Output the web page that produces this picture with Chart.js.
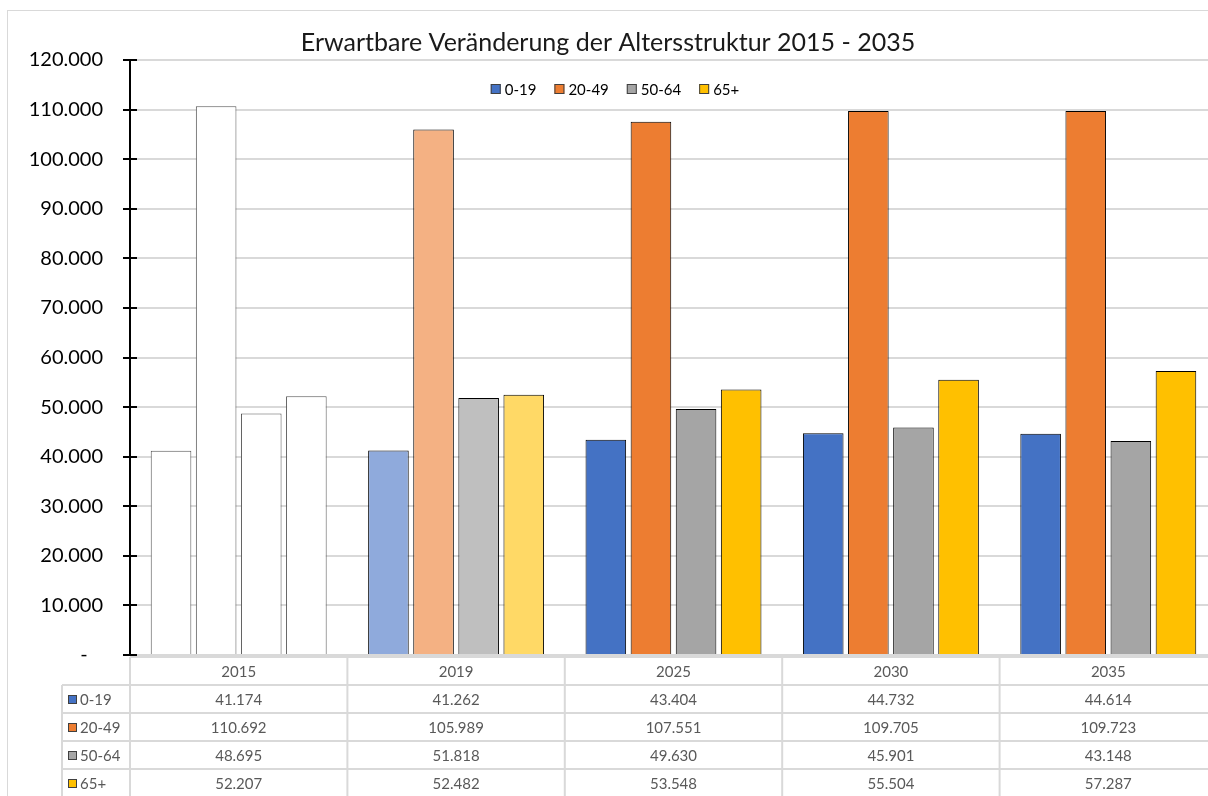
<!DOCTYPE html>
<html>
<head>
<meta charset="utf-8">
<script src="https://cdn.jsdelivr.net/npm/chart.js@4.4.1/dist/chart.umd.min.js"></script>
<style>
    html, body { margin: 0; padding: 0; overflow: hidden; background: #fff; }
    canvas { display: block; }
</style>
</head>
<body>
<canvas id="ageChart" width="1226" height="810"></canvas>
<script>
const years = ['2015', '2019', '2025', '2030', '2035'];
const ageGroups = ['0-19', '20-49', '50-64', '65+'];
const age0to19 = [41174, 41262, 43404, 44732, 44614];
const age20to49 = [110692, 105989, 107551, 109705, 109723];
const age50to64 = [48695, 51818, 49630, 45901, 43148];
const age65plus = [52207, 52482, 53548, 55504, 57287];
const yTickValues = [0, 10000, 20000, 30000, 40000, 50000, 60000, 70000, 80000, 90000, 100000, 110000, 120000];

const titleText = 'Erwartbare Veränderung der Altersstruktur 2015 - 2035';
const fullColors = ['#4472C4', '#ED7D31', '#A5A5A5', '#FFC000'];
const lightColors = ['#8FAADC', '#F4B183', '#BFBFBF', '#FFD966'];
const seriesValues = [age0to19, age20to49, age50to64, age65plus];
const FONT = 'Lato, Carlito, "Open Sans", sans-serif';

// 12345 -> "12.345"
const fmt = v => String(v).replace(/\B(?=(\d{3})+(?!\d))/g, '.');

// 2015 empty boxes, 2019 faded, later years full colour
function barColors(i) {
    return years.map((y, j) => j === 0 ? '#ffffff' : (j === 1 ? lightColors[i] : fullColors[i]));
}
function barBorders() {
    return years.map((y, j) => j === 0 ? '#555555' : '#000000');
}

const frameAndTitle = {
    id: 'frameAndTitle',
    beforeDraw(chart) {
        const ctx = chart.ctx;
        ctx.save();
        ctx.fillStyle = '#fff';
        ctx.fillRect(0, 0, chart.width, chart.height);
        ctx.strokeStyle = '#d9d9d9';
        ctx.lineWidth = 1;
        ctx.strokeRect(7.5, 10.5, chart.width + 20, chart.height + 20);
        ctx.restore();
    },
    afterDraw(chart) {
        const ctx = chart.ctx;
        const area = chart.chartArea;
        ctx.save();
        ctx.fillStyle = '#1a1a1a';
        ctx.font = '25px ' + FONT;
        ctx.textAlign = 'center';
        ctx.textBaseline = 'middle';
        ctx.fillText(titleText, 608, area.top - 17);
        ctx.restore();
    }
};

const innerLegend = {
    id: 'innerLegend',
    afterDraw(chart) {
        const ctx = chart.ctx;
        const area = chart.chartArea;
        ctx.save();
        ctx.font = '15px ' + FONT;
        ctx.textBaseline = 'middle';
        const box = 10, gap = 4, spacing = 18;
        const widths = ageGroups.map(g => box + gap + ctx.measureText(g).width);
        const total = widths.reduce((a, b) => a + b, 0) + spacing * (ageGroups.length - 1);
        let x = 615 - total / 2;
        const y = area.top + 29;
        ageGroups.forEach((g, i) => {
            ctx.fillStyle = fullColors[i];
            ctx.fillRect(x, y - box / 2, box, box);
            ctx.strokeStyle = '#404040';
            ctx.lineWidth = 1;
            ctx.strokeRect(x + 0.5, y - box / 2 + 0.5, box - 1, box - 1);
            ctx.fillStyle = '#000';
            ctx.fillText(g, x + box + gap, y + 1);
            x += widths[i] + spacing;
        });
        ctx.restore();
    }
};

const dataTable = {
    id: 'dataTable',
    afterDraw(chart) {
        const ctx = chart.ctx;
        const area = chart.chartArea;
        const xs = chart.scales.x;
        const ys = chart.scales.y;
        const catW = (area.right - area.left) / years.length;
        const top = area.bottom + 2;
        const rowH = 28;
        const labelLeft = 62;
        ctx.save();
        ctx.strokeStyle = '#d9d9d9';
        ctx.lineWidth = 2;
        // horizontal lines
        ctx.beginPath();
        ctx.moveTo(area.left, top);
        ctx.lineTo(chart.width, top);
        for (let r = 1; r <= ageGroups.length + 1; r++) {
            ctx.moveTo(labelLeft, top + r * rowH);
            ctx.lineTo(chart.width, top + r * rowH);
        }
        // vertical lines
        for (let c = 0; c <= years.length; c++) {
            const x = area.left + c * catW;
            ctx.moveTo(x, top);
            ctx.lineTo(x, top + (ageGroups.length + 1) * rowH);
        }
        ctx.moveTo(labelLeft, top + rowH);
        ctx.lineTo(labelLeft, top + (ageGroups.length + 1) * rowH);
        ctx.stroke();

        ctx.font = '15px ' + FONT;
        ctx.fillStyle = '#595959';
        ctx.textAlign = 'center';
        ctx.textBaseline = 'middle';
        years.forEach((y, j) => {
            ctx.fillText(y, xs.getPixelForValue(j), top + rowH / 2 + 1);
        });
        ageGroups.forEach((g, i) => {
            const cy = top + (i + 1) * rowH + rowH / 2 + 1;
            seriesValues[i].forEach((v, j) => {
                ctx.fillStyle = '#595959';
                ctx.textAlign = 'center';
                ctx.fillText(fmt(v), xs.getPixelForValue(j), cy);
            });
            ctx.fillStyle = fullColors[i];
            ctx.fillRect(labelLeft + 6, cy - 5, 9, 9);
            ctx.strokeStyle = '#404040';
            ctx.lineWidth = 1;
            ctx.strokeRect(labelLeft + 6.5, cy - 4.5, 8, 8);
            ctx.fillStyle = '#595959';
            ctx.textAlign = 'left';
            ctx.fillText(g, labelLeft + 18, cy);
        });

        // tick marks reach a bit inside the plot too
        ctx.strokeStyle = '#000';
        ctx.lineWidth = 2;
        ctx.beginPath();
        yTickValues.forEach(v => {
            const py = Math.round(ys.getPixelForValue(v));
            ctx.moveTo(area.left, py);
            ctx.lineTo(area.left + 7, py);
        });
        ctx.stroke();
        ctx.restore();
    }
};

new Chart(document.getElementById('ageChart'), {
    type: 'bar',
    data: {
        labels: years,
        datasets: ageGroups.map((g, i) => ({
            label: g,
            data: seriesValues[i],
            backgroundColor: barColors(i),
            borderColor: barBorders(),
            borderWidth: 1,
            borderSkipped: 'bottom',
            categoryPercentage: 0.83,
            barPercentage: 0.90
        }))
    },
    options: {
        responsive: false,
        animation: false,
        layout: {
            padding: { top: 60, left: 20, right: 9, bottom: 155 }
        },
        plugins: {
            legend: { display: false },
            title: { display: false },
            tooltip: {
                callbacks: {
                    label: function(context) {
                        return `${context.dataset.label}: ${fmt(context.parsed.y)}`;
                    }
                }
            }
        },
        scales: {
            x: {
                display: false,
                grid: { display: false }
            },
            y: {
                min: 0,
                max: 120000,
                afterBuildTicks(scale) {
                    scale.ticks = yTickValues.map(v => ({ value: v }));
                },
                afterFit(scale) {
                    scale.width = 110;
                },
                border: { color: '#000', width: 2 },
                grid: {
                    color: '#d9d9d9',
                    lineWidth: 2,
                    tickColor: '#000',
                    tickLength: 7,
                    tickWidth: 2
                },
                ticks: {
                    padding: 20,
                    color: '#000',
                    font: { family: FONT, size: 20 },
                    callback: v => v === 0 ? '-   ' : fmt(v)
                }
            }
        }
    },
    plugins: [frameAndTitle, innerLegend, dataTable]
});
</script>
</body>
</html>
